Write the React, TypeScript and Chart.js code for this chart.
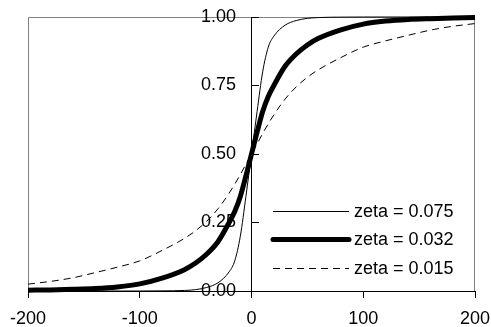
import React, { useEffect, useRef } from "react";
import { Chart, registerables } from "chart.js";

Chart.register(...registerables);

const xValues = [-200, -180, -160, -140, -120, -100, -80, -60, -50, -40, -30, -20, -15, -10, -5, 0, 5, 10, 15, 20, 30, 40, 50, 60, 80, 100, 120, 140, 160, 180, 200];
const zeta075 = [0, 0, 0, 0, 0, 0, 0.0005, 0.002, 0.005, 0.013, 0.03, 0.07, 0.11, 0.2, 0.345, 0.5, 0.655, 0.8, 0.89, 0.93, 0.97, 0.987, 0.995, 0.998, 0.9995, 1, 1, 1, 1, 1, 1];
const zeta032 = [0.003, 0.004, 0.006, 0.009, 0.015, 0.026, 0.047, 0.078, 0.102, 0.135, 0.18, 0.25, 0.29, 0.345, 0.42, 0.5, 0.58, 0.655, 0.71, 0.75, 0.82, 0.865, 0.898, 0.922, 0.953, 0.974, 0.985, 0.991, 0.994, 0.996, 0.998];
const zeta015 = [0.025, 0.035, 0.048, 0.067, 0.087, 0.11, 0.148, 0.192, 0.22, 0.255, 0.3, 0.357, 0.39, 0.425, 0.463, 0.5, 0.537, 0.575, 0.61, 0.643, 0.7, 0.745, 0.78, 0.808, 0.852, 0.89, 0.913, 0.933, 0.952, 0.966, 0.976];
const seriesLabels = ["zeta = 0.075", "zeta = 0.032", "zeta = 0.015"];
const xTickStep = 100;
const yTickStep = 0.25;

const FONT = "'Liberation Sans', Arial, sans-serif";

const framePlugin = {
  id: "frame",
  beforeDraw(chart: any) {
    const { ctx, chartArea } = chart;
    ctx.save();
    ctx.strokeStyle = "#808080";
    ctx.lineWidth = 1;
    ctx.beginPath();
    ctx.moveTo(chartArea.left + 0.5, chartArea.bottom);
    ctx.lineTo(chartArea.left + 0.5, chartArea.top + 0.5);
    ctx.lineTo(chartArea.right - 0.5, chartArea.top + 0.5);
    ctx.lineTo(chartArea.right - 0.5, chartArea.bottom);
    ctx.stroke();
    ctx.restore();
  },
};

const legendPlugin = {
  id: "innerLegend",
  afterDatasetsDraw(chart: any) {
    const { ctx, chartArea } = chart;
    const x0 = chartArea.right - 202;
    const x1 = chartArea.right - 126;
    const rows = [chartArea.bottom - 80, chartArea.bottom - 52, chartArea.bottom - 23];
    ctx.save();
    chart.data.datasets.forEach((ds: any, i: number) => {
      const y = rows[i];
      ctx.beginPath();
      ctx.strokeStyle = ds.borderColor;
      ctx.lineWidth = ds.borderWidth;
      ctx.lineCap = ds.borderWidth > 2 ? "round" : "butt";
      ctx.setLineDash(ds.borderDash || []);
      ctx.moveTo(x0, y + 0.5);
      ctx.lineTo(x1, y + 0.5);
      ctx.stroke();
      ctx.setLineDash([]);
      ctx.fillStyle = "#000";
      ctx.font = `18px ${FONT}`;
      ctx.textBaseline = "middle";
      ctx.textAlign = "left";
      ctx.fillText(ds.label, x1 + 5, y + 1);
    });
    ctx.restore();
  },
};

export default function App() {
  const ref = useRef<HTMLCanvasElement>(null);
  useEffect(() => {
    const series = [zeta075, zeta032, zeta015];
    const styles = [
      { borderWidth: 1, borderDash: [] as number[] },
      { borderWidth: 5, borderDash: [] as number[] },
      { borderWidth: 1, borderDash: [7, 5] },
    ];
    const chart = new Chart(ref.current!, {
      type: "line",
      data: {
        datasets: series.map((vals, i) => ({
          label: seriesLabels[i],
          data: xValues.map((x, j) => ({ x, y: vals[j] })),
          borderColor: "#000",
          borderWidth: styles[i].borderWidth,
          borderDash: styles[i].borderDash,
          pointRadius: 0,
          cubicInterpolationMode: "monotone" as const,
          clip: false as any,
          fill: false,
        })),
      },
      options: {
        animation: false,
        responsive: false,
        maintainAspectRatio: false,
        layout: { padding: { left: 28, right: 16, top: 17, bottom: 0 } },
        plugins: { legend: { display: false }, tooltip: { enabled: false } },
        scales: {
          x: {
            type: "linear",
            position: "bottom",
            min: -200,
            max: 200,
            ticks: {
              stepSize: xTickStep,
              color: "#000",
              font: { family: FONT, size: 18 },
              padding: 10,
              maxRotation: 0,
            },
            grid: { drawOnChartArea: false, drawTicks: true, tickLength: 7, color: "#000" },
            border: { display: true, color: "#000", width: 1 },
            afterFit: (s: any) => {
              s.height = 36;
              s.paddingLeft = 0;
              s.paddingRight = 0;
            },
          },
          y: {
            type: "linear",
            position: { x: 0 } as any,
            min: 0,
            max: 1,
            ticks: {
              stepSize: yTickStep,
              display: false,
            },
            grid: { drawOnChartArea: false, drawTicks: true, tickLength: -8, color: "#000", lineWidth: 1 },
            border: { display: true, color: "#000", width: 1 },
          },
          yLabels: {
            type: "linear",
            position: { x: -13.9 } as any,
            min: 0,
            max: 1,
            ticks: {
              stepSize: yTickStep,
              color: "#000",
              font: { family: FONT, size: 18 },
              callback: (v: any) => Number(v).toFixed(2),
            },
            grid: { display: false, drawTicks: false },
            border: { display: false },
          },
        },
      },
      plugins: [framePlugin, legendPlugin],
    });
    return () => chart.destroy();
  }, []);
  return (
    <div style={{ position: "absolute", left: 0, top: 0, width: 491, height: 327 }}>
      <canvas ref={ref} width={491} height={327} style={{ width: 491, height: 327 }} />
    </div>
  );
}
